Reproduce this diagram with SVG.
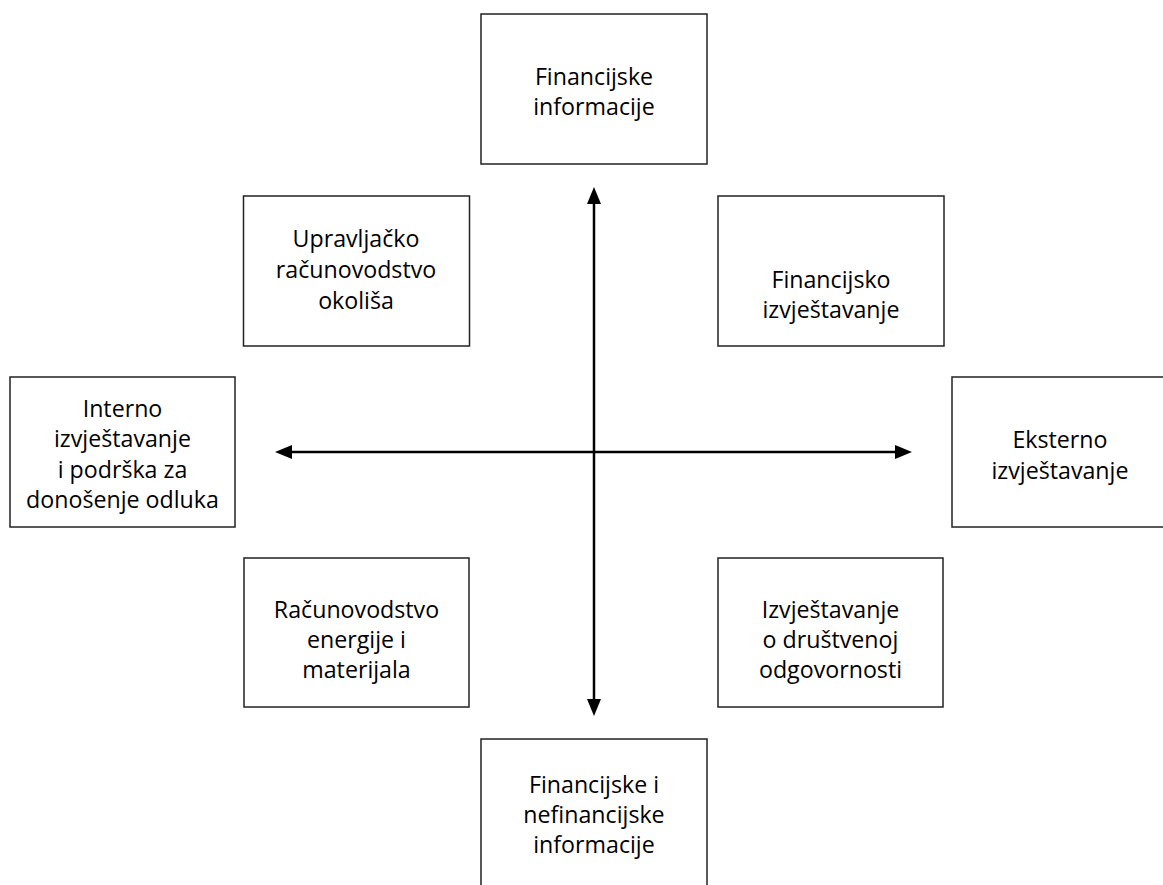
<svg xmlns="http://www.w3.org/2000/svg" width="1163" height="885" viewBox="0 0 1163 885">
<style>
.box{fill:#fff;stroke:#222;stroke-width:1.5}
.t{font-family:"Open Sans","Noto Sans",sans-serif;font-size:23.2px;fill:#000;text-anchor:middle}
.ax{stroke:#000;stroke-width:2.5;fill:none;marker-start:url(#ah);marker-end:url(#ah)}
</style>
<defs>
<marker id="ah" markerUnits="userSpaceOnUse" markerWidth="17" markerHeight="14" refX="0" refY="7" orient="auto-start-reverse" viewBox="0 0 17 14">
<path d="M0,0 L17,7 L0,14 z" fill="#000"/>
</marker>
</defs>
<g id="connectors">
<line class="ax" x1="594" y1="204" x2="594" y2="699"/>
<line class="ax" x1="292" y1="452" x2="895" y2="452"/>
</g>
<g id="n-top">
<rect class="box" x="481" y="14" width="226" height="150"/>
<text class="t" x="594" y="85">Financijske</text>
<text class="t" x="594" y="115">informacije</text>
</g>
<g id="n-upleft">
<rect class="box" x="243.5" y="196" width="226" height="150"/>
<text class="t" x="356" y="247">Upravljačko</text>
<text class="t" x="356" y="278">računovodstvo</text>
<text class="t" x="356" y="309">okoliša</text>
</g>
<g id="n-upright">
<rect class="box" x="718" y="196" width="226" height="150"/>
<text class="t" x="831" y="288">Financijsko</text>
<text class="t" x="831" y="318">izvještavanje</text>
</g>
<g id="n-left">
<rect class="box" x="10" y="377" width="225" height="150"/>
<text class="t" x="122.5" y="417">Interno</text>
<text class="t" x="122.5" y="447">izvještavanje</text>
<text class="t" x="122.5" y="478">i podrška za</text>
<text class="t" x="122.5" y="508">donošenje odluka</text>
</g>
<g id="n-right">
<rect class="box" x="952" y="377" width="226" height="150"/>
<text class="t" x="1060" y="448">Eksterno</text>
<text class="t" x="1060" y="479">izvještavanje</text>
</g>
<g id="n-lowleft">
<rect class="box" x="244" y="558" width="225" height="149"/>
<text class="t" x="356.5" y="618">Računovodstvo</text>
<text class="t" x="356.5" y="648">energije i</text>
<text class="t" x="356.5" y="678">materijala</text>
</g>
<g id="n-lowright">
<rect class="box" x="718" y="558" width="225" height="149"/>
<text class="t" x="830.5" y="618">Izvještavanje</text>
<text class="t" x="830.5" y="648">o društvenoj</text>
<text class="t" x="830.5" y="678">odgovornosti</text>
</g>
<g id="n-bottom">
<rect class="box" x="481" y="739" width="226" height="150"/>
<text class="t" x="594" y="793">Financijske i</text>
<text class="t" x="594" y="823">nefinancijske</text>
<text class="t" x="594" y="853">informacije</text>
</g>
</svg>
